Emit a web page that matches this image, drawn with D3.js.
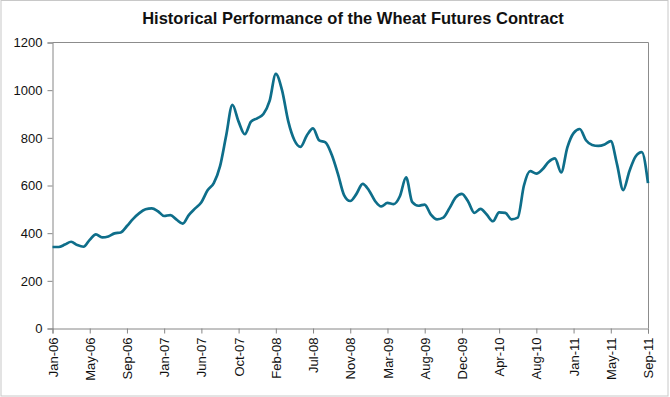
<!DOCTYPE html>
<html>
<head>
<meta charset="utf-8">
<script src="https://cdn.jsdelivr.net/npm/d3@7"></script>
<style>
  html, body { margin: 0; padding: 0; background: #fff; }
  svg { display: block; }
  text { font-family: "Liberation Sans", Arial, sans-serif; }
</style>
</head>
<body>
<svg id="chart" width="670" height="397"></svg>
<script>
// ---- data ----
const title = "Historical Performance of the Wheat Futures Contract";
const xLabels = ["Jan-06","May-06","Sep-06","Jan-07","Jun-07","Oct-07","Feb-08","Jul-08",
                 "Nov-08","Mar-09","Aug-09","Dec-09","Apr-10","Aug-10","Jan-11","May-11","Sep-11"];
const pointsPerLabel = 6;
const wheat = [
  342, 342, 352, 364, 350, 343, 372, 395, 382, 386, 399, 403,
  430, 460, 484, 500, 504, 492, 472, 476, 457, 440, 477, 504,
  530, 580, 610, 680, 810, 938, 868, 815, 868, 882, 900, 955,
  1068, 1000, 870, 790, 762, 810, 840, 789, 781, 730, 650, 560,
  535, 565, 607, 580, 535, 512, 527, 522, 555, 634, 530, 515,
  520, 478, 458, 465, 505, 550, 565, 533, 485, 502, 478, 450,
  487, 485, 458, 465, 600, 660, 650, 668, 700, 714, 655, 760,
  820, 837, 790, 770, 766, 772, 786, 690, 581, 660, 722, 740,
  610
];
const yTicks = [0, 200, 400, 600, 800, 1000, 1200];

// ---- layout ----
const svg = d3.select("#chart");
const M = { left: 52.5, right: 648.5, top: 42.5, bottom: 328.5 };

svg.append("rect")
  .attr("x", 1).attr("y", 0.5).attr("width", 667).attr("height", 395.5)
  .attr("fill", "none").attr("stroke", "#c8c8c8").attr("stroke-width", 1);

const x = d3.scaleLinear().domain([0, wheat.length - 1]).range([M.left, M.right - 0.5]);
const y = d3.scaleLinear().domain([0, 1200]).range([M.bottom, M.top]);

// plot box top/right border
svg.append("path")
  .attr("d", `M${M.left},${M.top}H${M.right}V${M.bottom}`)
  .attr("fill", "none").attr("stroke", "#8c8c8c").attr("stroke-width", 1);

// y axis
const yAxis = svg.append("g")
  .attr("transform", `translate(${M.left},0)`)
  .call(d3.axisLeft(y).tickValues(yTicks).tickSize(5).tickPadding(5).tickFormat(d3.format("d")));
yAxis.selectAll("path, line").attr("stroke", "#868686");
yAxis.selectAll("text").attr("font-size", "13px").attr("fill", "#111")
  .style("font-family", '"Liberation Sans", Arial, sans-serif');

// x axis
const tickIdx = xLabels.map((d, i) => i * pointsPerLabel);
const xAxis = svg.append("g")
  .attr("transform", `translate(0,${M.bottom})`)
  .call(d3.axisBottom(x).tickValues(tickIdx).tickSize(5)
    .tickFormat((d) => xLabels[d / pointsPerLabel]));
xAxis.selectAll("path, line").attr("stroke", "#868686");
xAxis.selectAll("text")
  .attr("font-size", "13px").attr("fill", "#111")
  .style("font-family", '"Liberation Sans", Arial, sans-serif')
  .attr("transform", "rotate(-90)")
  .attr("text-anchor", "end")
  .attr("x", -9).attr("y", 0).attr("dy", "0.35em");

// line
const line = d3.line()
  .x((d, i) => x(i))
  .y((d) => y(d))
  .curve(d3.curveMonotoneX);
svg.append("path")
  .datum(wheat)
  .attr("d", line)
  .attr("fill", "none")
  .attr("stroke", "#0e6e8a")
  .attr("stroke-width", 2.7)
  .attr("stroke-linejoin", "round");

// title
svg.append("text")
  .attr("x", 353).attr("y", 24)
  .attr("text-anchor", "middle")
  .attr("font-size", "16.5px").attr("font-weight", "bold").attr("fill", "#111")
  .text(title);
</script>
</body>
</html>
